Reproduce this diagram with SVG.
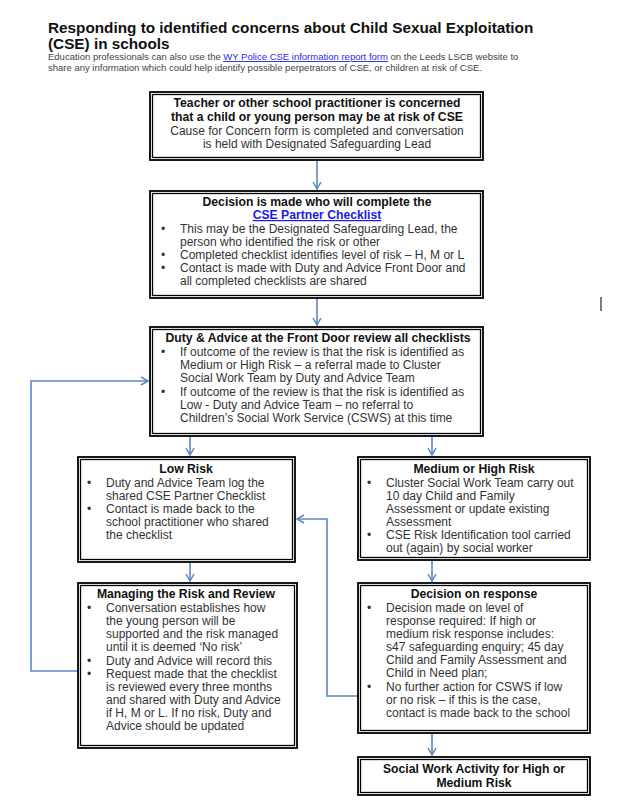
<svg xmlns="http://www.w3.org/2000/svg" width="622" height="806" viewBox="0 0 622 806">
<style>
text{font-family:"Liberation Sans",Arial,sans-serif;}
.h{font-size:15.3px;font-weight:bold;fill:#111;}
.s{font-size:9.5px;fill:#444;}
.lk{fill:#2a2ae0;text-decoration:underline;}
.b{font-size:12.2px;font-weight:bold;fill:#111;}
.t{font-size:12px;fill:#333;}
.c{text-anchor:middle;}
.o{fill:#fff;stroke:#000;stroke-width:1.8;}
.i{fill:none;stroke:#000;stroke-width:1.3;}
.cn{fill:none;stroke:#5a88c5;stroke-width:1.6;}
</style>
<defs>
<marker id="ar" markerWidth="10" markerHeight="10" refX="8" refY="5" orient="auto" markerUnits="userSpaceOnUse">
<path d="M1,1 L8,5 L1,9" fill="none" stroke="#5a88c5" stroke-width="1.5"/>
</marker>
</defs>
<rect width="622" height="806" fill="#fff"/>
<g id="header">
<text class="h" x="48" y="33">Responding to identified concerns about Child Sexual Exploitation</text>
<text class="h" x="48" y="49">(CSE) in schools</text>
<text class="s" x="48" y="60">Education professionals can also use the <tspan class="lk">WY Police CSE information report form</tspan> on the Leeds LSCB website to</text>
<text class="s" x="48" y="71">share any information which could help identify possible perpetrators of CSE, or children at risk of CSE.</text>
</g>
<g id="connectors">
<line class="cn" x1="317" y1="161" x2="317" y2="189" marker-end="url(#ar)"/>
<line class="cn" x1="317" y1="299" x2="317" y2="325" marker-end="url(#ar)"/>
<line class="cn" x1="190" y1="437" x2="190" y2="455" marker-end="url(#ar)"/>
<line class="cn" x1="432" y1="437" x2="432" y2="455" marker-end="url(#ar)"/>
<line class="cn" x1="190" y1="563" x2="190" y2="581" marker-end="url(#ar)"/>
<line class="cn" x1="432" y1="561" x2="432" y2="581" marker-end="url(#ar)"/>
<line class="cn" x1="432" y1="734" x2="432" y2="755" marker-end="url(#ar)"/>
<polyline class="cn" points="78,671 31,671 31,381 148,381" marker-end="url(#ar)"/>
<polyline class="cn" points="358,696 327,696 327,519 297,519" marker-end="url(#ar)"/>
</g>
<g id="n1">
<rect class="o" x="150" y="92" width="333" height="68"/><rect class="i" x="152.5" y="94.5" width="328" height="63"/>
<text class="b c" x="317" y="107">Teacher or other school practitioner is concerned</text>
<text class="b c" x="317" y="121">that a child or young person may be at risk of CSE</text>
<text class="t c" x="317" y="135">Cause for Concern form is completed and conversation</text>
<text class="t c" x="317" y="148">is held with Designated Safeguarding Lead</text>
</g>
<g id="n2">
<rect class="o" x="150" y="191" width="333" height="107"/><rect class="i" x="152.5" y="193.5" width="328" height="102"/>
<text class="b c" x="317" y="206">Decision is made who will complete the</text>
<text class="b c" x="317" y="219" style="fill:#1a1ae6;text-decoration:underline">CSE Partner Checklist</text>
<text class="t" x="161" y="233">•</text><text class="t" x="180" y="233">This may be the Designated Safeguarding Lead, the</text>
<text class="t" x="180" y="246">person who identified the risk or other</text>
<text class="t" x="161" y="259">•</text><text class="t" x="180" y="259">Completed checklist identifies level of risk – H, M or L</text>
<text class="t" x="161" y="272">•</text><text class="t" x="180" y="272">Contact is made with Duty and Advice Front Door and</text>
<text class="t" x="180" y="285">all completed checklists are shared</text>
</g>
<g id="n3">
<rect class="o" x="150" y="327" width="333" height="109"/><rect class="i" x="152.5" y="329.5" width="328" height="104"/>
<text class="b c" x="318" y="342">Duty &amp; Advice at the Front Door review all checklists</text>
<text class="t" x="161" y="356">•</text><text class="t" x="180" y="356">If outcome of the review is that the risk is identified as</text>
<text class="t" x="180" y="369">Medium or High Risk – a referral made to Cluster</text>
<text class="t" x="180" y="382">Social Work Team by Duty and Advice Team</text>
<text class="t" x="161" y="396">•</text><text class="t" x="180" y="396">If outcome of the review is that the risk is identified as</text>
<text class="t" x="180" y="409">Low - Duty and Advice Team – no referral to</text>
<text class="t" x="180" y="422">Children’s Social Work Service (CSWS) at this time</text>
</g>
<g id="n4">
<rect class="o" x="78" y="457" width="217" height="105"/><rect class="i" x="80.5" y="459.5" width="212" height="100"/>
<text class="b c" x="186" y="473">Low Risk</text>
<text class="t" x="87" y="487">•</text><text class="t" x="106" y="487">Duty and Advice Team log the</text>
<text class="t" x="106" y="500">shared CSE Partner Checklist</text>
<text class="t" x="87" y="513">•</text><text class="t" x="106" y="513">Contact is made back to the</text>
<text class="t" x="106" y="526">school practitioner who shared</text>
<text class="t" x="106" y="539">the checklist</text>
</g>
<g id="n5">
<rect class="o" x="358" y="457" width="232" height="103"/><rect class="i" x="360.5" y="459.5" width="227" height="98"/>
<text class="b c" x="474" y="473">Medium or High Risk</text>
<text class="t" x="367" y="487">•</text><text class="t" x="386" y="487">Cluster Social Work Team carry out</text>
<text class="t" x="386" y="500">10 day Child and Family</text>
<text class="t" x="386" y="513">Assessment or update existing</text>
<text class="t" x="386" y="526">Assessment</text>
<text class="t" x="367" y="539">•</text><text class="t" x="386" y="539">CSE Risk Identification tool carried</text>
<text class="t" x="386" y="552">out (again) by social worker</text>
</g>
<g id="n6">
<rect class="o" x="78" y="583" width="219" height="165"/><rect class="i" x="80.5" y="585.5" width="214" height="160"/>
<text class="b c" x="186" y="598">Managing the Risk and Review</text>
<text class="t" x="87" y="612">•</text><text class="t" x="106" y="612">Conversation establishes how</text>
<text class="t" x="106" y="625">the young person will be</text>
<text class="t" x="106" y="638">supported and the risk managed</text>
<text class="t" x="106" y="651">until it is deemed ‘No risk’</text>
<text class="t" x="87" y="665">•</text><text class="t" x="106" y="665">Duty and Advice will record this</text>
<text class="t" x="87" y="678">•</text><text class="t" x="106" y="678">Request made that the checklist</text>
<text class="t" x="106" y="691">is reviewed every three months</text>
<text class="t" x="106" y="704">and shared with Duty and Advice</text>
<text class="t" x="106" y="717">if H, M or L. If no risk, Duty and</text>
<text class="t" x="106" y="730">Advice should be updated</text>
</g>
<g id="n7">
<rect class="o" x="358" y="583" width="232" height="150"/><rect class="i" x="360.5" y="585.5" width="227" height="145"/>
<text class="b c" x="474" y="598">Decision on response</text>
<text class="t" x="367" y="612">•</text><text class="t" x="386" y="612">Decision made on level of</text>
<text class="t" x="386" y="625">response required: If high or</text>
<text class="t" x="386" y="638">medium risk response includes:</text>
<text class="t" x="386" y="651">s47 safeguarding enquiry; 45 day</text>
<text class="t" x="386" y="664">Child and Family Assessment and</text>
<text class="t" x="386" y="677">Child in Need plan;</text>
<text class="t" x="367" y="691">•</text><text class="t" x="386" y="691">No further action for CSWS if low</text>
<text class="t" x="386" y="704">or no risk – if this is the case,</text>
<text class="t" x="386" y="717">contact is made back to the school</text>
</g>
<g id="n8">
<rect class="o" x="358" y="757" width="232" height="38"/><rect class="i" x="360.5" y="759.5" width="227" height="33"/>
<text class="b c" x="474" y="773">Social Work Activity for High or</text>
<text class="b c" x="474" y="787">Medium Risk</text>
</g>
<line x1="601" y1="297" x2="601" y2="311" stroke="#000" stroke-width="1"/>
</svg>
